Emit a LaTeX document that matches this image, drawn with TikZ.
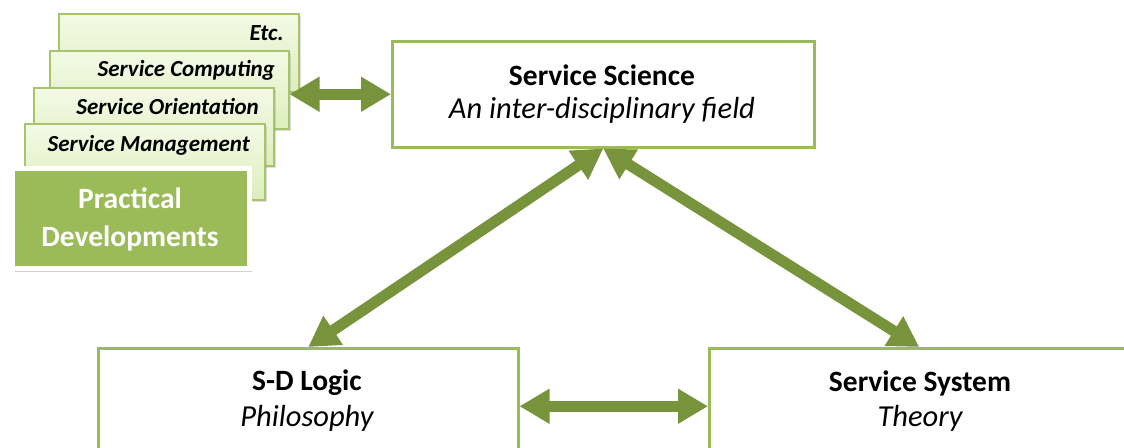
\documentclass[tikz,border=0pt]{standalone}
\usepackage{fontspec}
\setmainfont{Carlito}
\usetikzlibrary{arrows.meta,shadows}
\definecolor{arrowgreen}{HTML}{77933C}
\definecolor{boxgreen}{HTML}{9BBB59}
\definecolor{stackline}{HTML}{A6C46A}
\definecolor{stacktop}{HTML}{F4FAE6}
\definecolor{stackbot}{HTML}{DDEDBD}
\tikzset{
  mainbox/.style={draw=boxgreen, line width=2.5pt, fill=white, anchor=north west, inner sep=0pt},
  stackbox/.style={draw=stackline, line width=1.5pt, top color=stacktop, bottom color=stackbot,
    anchor=north west, inner sep=0pt, minimum width=240pt, minimum height=78pt,
    drop shadow={opacity=0.25, shadow xshift=2pt, shadow yshift=-2pt}},
  stacklabel/.style={anchor=east, inner sep=0pt, text=black,
    font=\fontsize{23}{27}\selectfont\bfseries\itshape},
  titletext/.style={inner sep=0pt, font=\fontsize{29.5}{34}\selectfont\bfseries},
  subtext/.style={inner sep=0pt, font=\fontsize{30.5}{34}\selectfont\itshape},
  biarrow/.style={draw=arrowgreen, line width=11pt,
    {Triangle[length=30pt,width=33pt]}-{Triangle[length=30pt,width=33pt]}},
}
\begin{document}
\begin{tikzpicture}[x=1pt,y=-1pt]
\clip (0,0) rectangle (1124,447);
\useasboundingbox (0,0) rectangle (1124,447);
\fill[white] (0,0) rectangle (1124,447);

% main boxes
\node[mainbox, minimum width=422pt, minimum height=106pt] (ss) at (391,40) {};
\node[mainbox, minimum width=420pt, minimum height=116pt] (sdl) at (97,347) {};
\node[mainbox, minimum width=420pt, minimum height=116pt] (sys) at (708,347) {};

\node[titletext] (sst) at (602,75) {Service Science};
\node[subtext] (sss) at (602,110) {An inter-disciplinary field};
\node[titletext] (sdlt) at (307,383) {S-D Logic};
\node[subtext] (sdls) at (307,418) {Philosophy};
\node[titletext] (syst) at (920,383) {Service System};
\node[subtext] (syss) at (920,418) {Theory};

% stacked boxes
\node[stackbox] (etc) at (58,13) {};
\node[stacklabel] (etcl) at (284,33) {Etc.};
\node[stackbox, minimum width=239pt] (comp) at (49,50) {};
\node[stacklabel] (compl) at (275,70) {Service Computing};
\node[stackbox] (orient) at (33,87) {};
\node[stacklabel] (orientl) at (259,107) {Service Orientation};
\node[stackbox, minimum height=76pt] (mgmt) at (24,123) {};
\node[stacklabel] (mgmtl) at (250,145) {Service Management};

\node[anchor=north west, minimum width=237pt, minimum height=100pt, inner sep=0pt,
  fill=boxgreen, draw=white, line width=5pt,
  drop shadow={opacity=0.35, shadow xshift=2pt, shadow yshift=-3pt}] (pd) at (10,166) {};
\node[align=center, text=white, inner sep=0pt,
  font=\fontsize{29.5}{38}\selectfont\bfseries] (pdt) at (130,219) {Practical\\Developments};

% connectors
\draw[biarrow] (comp.east |- ss.west) -- (ss.west);
\draw[biarrow] (ss.south) -- (sdl.north);
\draw[biarrow] (ss.south) -- (sys.north);
\draw[biarrow] (sdl.east) -- (sys.west);
\end{tikzpicture}
\end{document}
